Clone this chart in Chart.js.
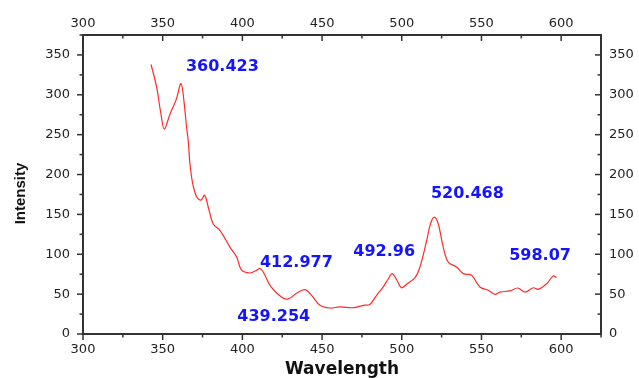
<!DOCTYPE html>
<html>
<head>
<meta charset="utf-8">
<script src="https://cdn.jsdelivr.net/npm/chart.js@4.4.0/dist/chart.umd.min.js"></script>
<style>
  html, body { margin: 0; padding: 0; background: #fff; }
  #wrap { width: 639px; height: 378px; }
</style>
</head>
<body>
<div id="wrap"><canvas id="spectrum"></canvas></div>
<script>
// emission spectrum
const wavelength = [342.7, 346.2, 348.9, 351, 354.6, 358.3, 361.5, 363.5, 365, 366, 367.1, 368.8,
    371.3, 374, 376.3, 378.6, 381.7, 385.9, 392.2, 396.4, 399.5, 404.8, 408, 411, 413, 418,
    424.7, 428.8, 434, 439.2, 443.4, 448.7, 455, 461, 469.6, 475.9, 480, 484.2, 488.4, 491.5,
    494, 496.8, 499.9, 503.4, 508.3, 511.4, 515.6, 518, 520.4, 522.9, 526, 529.2, 534.4, 538.6,
    543.8, 549, 554.3, 558.5, 561.6, 567.9, 572.7, 577.3, 582.5, 585.6, 590.9, 595, 597.1];
const intensity = [338, 309.5, 276, 257, 276, 293, 314, 289, 259, 243, 213.5, 189,
    172, 168, 174, 159, 138, 130, 109, 96.5, 80, 76.5, 79, 82, 78, 59,
    46, 44, 51, 55.6, 48.5, 36, 32.6, 34, 33, 36, 37, 48.5, 59, 69,
    75.7, 68, 58, 63, 70.6, 84, 117, 138, 146.6, 138, 109, 90, 84, 75.7,
    73.6, 59, 54.8, 49.7, 52.6, 54, 57.7, 52.6, 58, 56, 63, 72.7, 70.7];

const peakLabels = ['360.423', '412.977', '439.254', '492.96', '520.468', '598.07'];
const peakLabelX = [364.6, 411, 396.8, 469.6, 518.3, 567.4];
const peakLabelY = [335, 89, 21.3, 102.7, 176, 97.7];

const xTicks = [300, 350, 400, 450, 500, 550, 600];
const yTicks = [0, 50, 100, 150, 200, 250, 300, 350];
const xRange = [300, 625];
const yRange = [0, 375];

const axisColor = '#333';
const tickFont = { family: 'DejaVu Sans', size: 13 };

// tick marks: outward on left/bottom, inward on top/right, with minor ticks
const tickMarks = {
    id: 'tickMarks',
    afterDraw(chart) {
        const c = chart.ctx;
        c.save();
        c.strokeStyle = axisColor;
        c.lineWidth = 1.5;
        Object.values(chart.scales).forEach(s => {
            for (let v = s.min; v <= s.max + 0.01; v += 25) {
                const len = (v % 50) === 0 ? 6 : 3.5;
                const p = s.getPixelForValue(v);
                c.beginPath();
                if (s.position === 'bottom') { c.moveTo(p, s.top); c.lineTo(p, s.top + len); }
                else if (s.position === 'top') { c.moveTo(p, s.bottom); c.lineTo(p, s.bottom + len); }
                else if (s.position === 'left') { c.moveTo(s.right, p); c.lineTo(s.right - len, p); }
                else { c.moveTo(s.left, p); c.lineTo(s.left - len, p); }
                c.stroke();
            }
        });

        // y axis title, sitting a little below the plot centre like the original
        c.fillStyle = '#111';
        c.font = 'bold 15px "Liberation Sans"';
        c.textAlign = 'center';
        c.textBaseline = 'middle';
        c.translate(21, (chart.chartArea.top + chart.chartArea.bottom) / 2 + 9);
        c.rotate(-Math.PI / 2);
        c.fillText('Intensity', 0, 0);
        c.restore();
    }
};

const peakText = {
    id: 'peakText',
    afterDatasetsDraw(chart) {
        const c = chart.ctx;
        const sx = chart.scales.x, sy = chart.scales.y;
        c.save();
        c.fillStyle = '#1414ff';
        c.font = 'bold 16px "DejaVu Sans"';
        c.textAlign = 'left';
        c.textBaseline = 'middle';
        peakLabels.forEach((t, i) => {
            c.fillText(t, sx.getPixelForValue(peakLabelX[i]), sy.getPixelForValue(peakLabelY[i]));
        });
        c.restore();
    }
};

const fixedTicks = list => scale => { scale.ticks = list.map(v => ({ value: v })); };

new Chart(document.getElementById('spectrum'), {
    type: 'line',
    data: {
        datasets: [{
            data: wavelength.map((w, i) => ({ x: w, y: intensity[i] })),
            borderColor: '#ff2b2b',
            borderWidth: 1.2,
            pointRadius: 0,
            tension: 0.35,
            fill: false
        }]
    },
    options: {
        responsive: true,
        maintainAspectRatio: false,
        animation: false,
        layout: { padding: 0 },
        plugins: { legend: { display: false }, tooltip: { enabled: false } },
        scales: {
            x: {
                type: 'linear', position: 'bottom', min: xRange[0], max: xRange[1],
                afterBuildTicks: fixedTicks(xTicks),
                afterFit: s => { s.height = 44; },
                grid: { drawOnChartArea: false, drawTicks: false },
                border: { color: axisColor, width: 2 },
                ticks: { font: tickFont, color: '#222', padding: 8, maxRotation: 0 },
                title: {
                    display: true, text: 'Wavelength', color: '#111',
                    font: { family: 'DejaVu Sans', size: 17, weight: 'bold' },
                    padding: { top: 0, bottom: -2 }
                }
            },
            x2: {
                type: 'linear', position: 'top', min: xRange[0], max: xRange[1],
                afterBuildTicks: fixedTicks(xTicks),
                afterFit: s => { s.height = 35; },
                grid: { drawOnChartArea: false, drawTicks: false },
                border: { color: axisColor, width: 2 },
                ticks: { font: tickFont, color: '#222', padding: 4, maxRotation: 0 }
            },
            y: {
                type: 'linear', position: 'left', min: yRange[0], max: yRange[1],
                afterBuildTicks: fixedTicks(yTicks),
                afterFit: s => { s.width = 83; },
                grid: { drawOnChartArea: false, drawTicks: false },
                border: { color: axisColor, width: 2 },
                ticks: { font: tickFont, color: '#222', padding: 13 }
            },
            y2: {
                type: 'linear', position: 'right', min: yRange[0], max: yRange[1],
                afterBuildTicks: fixedTicks(yTicks),
                afterFit: s => { s.width = 38; },
                grid: { drawOnChartArea: false, drawTicks: false },
                border: { color: axisColor, width: 2 },
                ticks: { font: tickFont, color: '#222', padding: 8 }
            }
        }
    },
    plugins: [tickMarks, peakText]
});
</script>
</body>
</html>
